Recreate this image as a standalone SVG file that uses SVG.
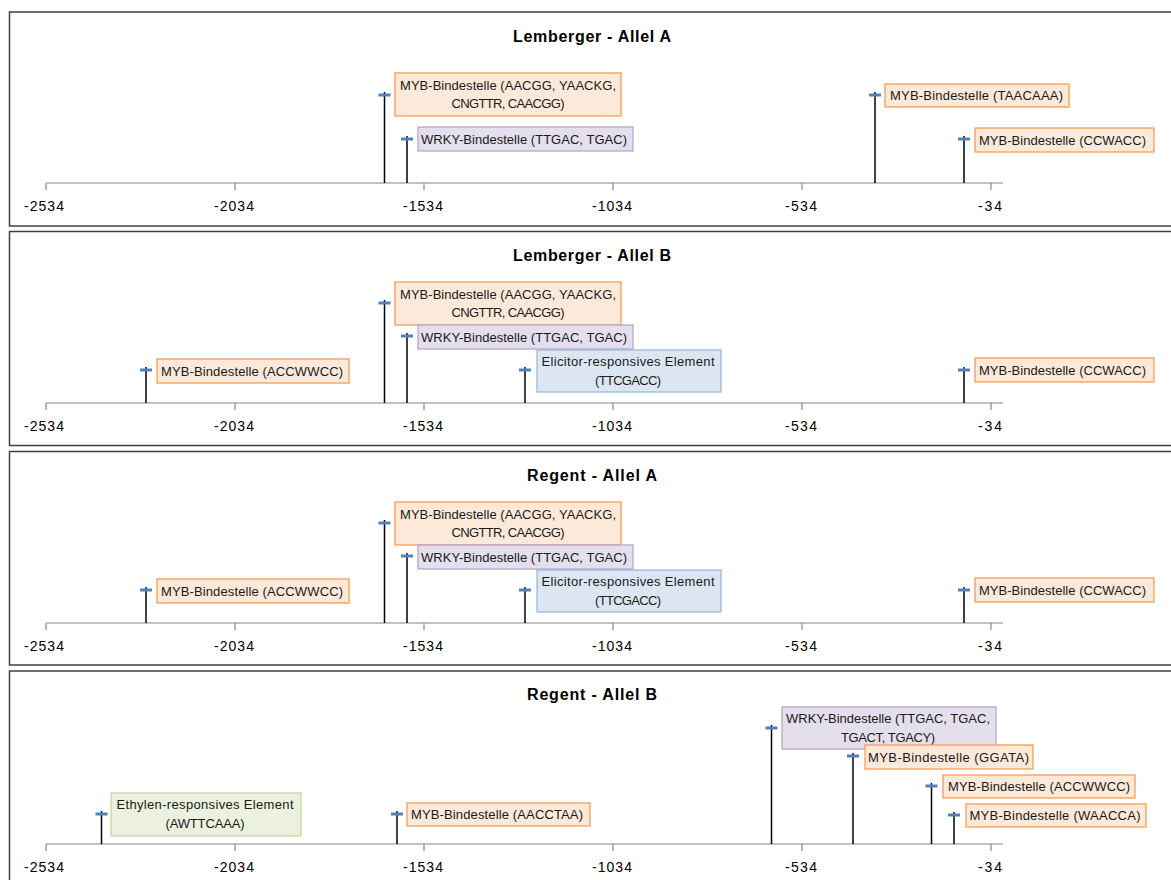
<svg xmlns="http://www.w3.org/2000/svg" width="1171" height="880" viewBox="0 0 1171 880">
<style>
.frame{fill:#fff;stroke:#404040;stroke-width:1.5}
.title{font-family:"Liberation Sans",Arial,sans-serif;font-weight:bold;font-size:16px;fill:#000;text-anchor:middle}
.axis{stroke:#868686;stroke-width:1.2;fill:none}
.tick{font-family:"Liberation Sans",Arial,sans-serif;font-size:14px;fill:#000;text-anchor:middle}
.stem{stroke:#000;stroke-width:1.5}
.mk{fill:#4f81bd}
.lbl{font-family:"Liberation Sans",Arial,sans-serif;font-size:13px;fill:#1a1a1a}
.mid{text-anchor:middle}
.or{fill:#fde9d9;stroke:#f79646;stroke-width:1.2}
.pu{fill:#e4dfec;stroke:#b3a2c7;stroke-width:1.2}
.bl{fill:#dce6f2;stroke:#95b3d7;stroke-width:1.2}
.gr{fill:#ebf1de;stroke:#c3d69b;stroke-width:1.2}
</style>
<defs>
<g id="axis">
<path class="axis" d="M46,0H1003M46,0v7M235,0v7M424,0v7M613,0v7M802,0v7M991,0v7"/>
<text class="tick" x="44" y="28" textLength="40">-2534</text>
<text class="tick" x="234" y="28" textLength="40">-2034</text>
<text class="tick" x="423" y="28" textLength="40">-1534</text>
<text class="tick" x="612" y="28" textLength="40">-1034</text>
<text class="tick" x="801" y="28" textLength="32">-534</text>
<text class="tick" x="990" y="28" textLength="24">-34</text>
</g>
</defs>

<!-- Panel 1 -->
<g id="panel1">
<rect class="frame" x="9.5" y="12" width="1170" height="214"/>
<text class="title" x="592" y="42" textLength="158">Lemberger - Allel A</text>
<use href="#axis" y="183"/>
</g>
<g id="p1-connectors">
<line class="stem" x1="384.5" y1="183" x2="384.5" y2="92"/><rect class="mk" x="378.5" y="93.5" width="12" height="3"/>
<line class="stem" x1="407" y1="183" x2="407" y2="136"/><rect class="mk" x="401" y="137.5" width="12" height="3"/>
<line class="stem" x1="875" y1="183" x2="875" y2="92"/><rect class="mk" x="869" y="93.5" width="12" height="3"/>
<line class="stem" x1="964" y1="183" x2="964" y2="136"/><rect class="mk" x="958" y="137.5" width="12" height="3"/>
</g>
<g id="p1-myb1"><rect class="or" x="395" y="73" width="226" height="43"/>
<text class="lbl mid" x="508" y="89.5" textLength="216">MYB-Bindestelle (AACGG, YAACKG,</text>
<text class="lbl mid" x="508" y="108" textLength="113">CNGTTR, CAACGG)</text></g>
<g id="p1-wrky"><rect class="pu" x="418" y="127" width="215" height="24"/>
<text class="lbl" x="421" y="143.5" textLength="206">WRKY-Bindestelle (TTGAC, TGAC)</text></g>
<g id="p1-myb2"><rect class="or" x="885" y="84" width="184" height="23"/>
<text class="lbl" x="890" y="100" textLength="173">MYB-Bindestelle (TAACAAA)</text></g>
<g id="p1-myb3"><rect class="or" x="975" y="128" width="179" height="24"/>
<text class="lbl" x="979" y="144.5" textLength="167">MYB-Bindestelle (CCWACC)</text></g>

<!-- Panel 2 -->
<g id="panel2">
<rect class="frame" x="9.5" y="231.5" width="1170" height="214"/>
<text class="title" x="592" y="261" textLength="158">Lemberger - Allel B</text>
<use href="#axis" y="403"/>
</g>
<g id="p2-connectors">
<line class="stem" x1="146" y1="403" x2="146" y2="367"/><rect class="mk" x="140" y="368.5" width="12" height="3"/>
<line class="stem" x1="384.5" y1="403" x2="384.5" y2="300"/><rect class="mk" x="378.5" y="301.5" width="12" height="3"/>
<line class="stem" x1="407" y1="403" x2="407" y2="333"/><rect class="mk" x="401" y="334.5" width="12" height="3"/>
<line class="stem" x1="525" y1="403" x2="525" y2="367"/><rect class="mk" x="519" y="368.5" width="12" height="3"/>
<line class="stem" x1="964" y1="403" x2="964" y2="367"/><rect class="mk" x="958" y="368.5" width="12" height="3"/>
</g>
<g id="p2-myb0"><rect class="or" x="157" y="359" width="192" height="24"/>
<text class="lbl" x="161" y="375.5" textLength="182">MYB-Bindestelle (ACCWWCC)</text></g>
<g id="p2-myb1"><rect class="or" x="395" y="282" width="226" height="43"/>
<text class="lbl mid" x="508" y="298.5" textLength="216">MYB-Bindestelle (AACGG, YAACKG,</text>
<text class="lbl mid" x="508" y="317" textLength="113">CNGTTR, CAACGG)</text></g>
<g id="p2-wrky"><rect class="pu" x="418" y="325" width="215" height="24"/>
<text class="lbl" x="421" y="341.5" textLength="206">WRKY-Bindestelle (TTGAC, TGAC)</text></g>
<g id="p2-elic"><rect class="bl" x="537" y="350" width="184" height="42"/>
<text class="lbl mid" x="628" y="366" textLength="173">Elicitor-responsives Element</text>
<text class="lbl mid" x="628" y="385" textLength="66">(TTCGACC)</text></g>
<g id="p2-myb3"><rect class="or" x="975" y="358" width="179" height="24"/>
<text class="lbl" x="979" y="374.5" textLength="167">MYB-Bindestelle (CCWACC)</text></g>

<!-- Panel 3 -->
<g id="panel3">
<rect class="frame" x="9.5" y="451.5" width="1170" height="213.5"/>
<text class="title" x="592" y="481" textLength="130">Regent - Allel A</text>
<use href="#axis" y="623"/>
</g>
<g id="p3-connectors">
<line class="stem" x1="146" y1="623" x2="146" y2="587"/><rect class="mk" x="140" y="588.5" width="12" height="3"/>
<line class="stem" x1="384.5" y1="623" x2="384.5" y2="520"/><rect class="mk" x="378.5" y="521.5" width="12" height="3"/>
<line class="stem" x1="407" y1="623" x2="407" y2="553"/><rect class="mk" x="401" y="554.5" width="12" height="3"/>
<line class="stem" x1="525" y1="623" x2="525" y2="587"/><rect class="mk" x="519" y="588.5" width="12" height="3"/>
<line class="stem" x1="964" y1="623" x2="964" y2="587"/><rect class="mk" x="958" y="588.5" width="12" height="3"/>
</g>
<g id="p3-myb0"><rect class="or" x="157" y="579" width="192" height="24"/>
<text class="lbl" x="161" y="595.5" textLength="182">MYB-Bindestelle (ACCWWCC)</text></g>
<g id="p3-myb1"><rect class="or" x="395" y="502" width="226" height="43"/>
<text class="lbl mid" x="508" y="518.5" textLength="216">MYB-Bindestelle (AACGG, YAACKG,</text>
<text class="lbl mid" x="508" y="537" textLength="113">CNGTTR, CAACGG)</text></g>
<g id="p3-wrky"><rect class="pu" x="418" y="545" width="215" height="24"/>
<text class="lbl" x="421" y="561.5" textLength="206">WRKY-Bindestelle (TTGAC, TGAC)</text></g>
<g id="p3-elic"><rect class="bl" x="537" y="570" width="184" height="42"/>
<text class="lbl mid" x="628" y="586" textLength="173">Elicitor-responsives Element</text>
<text class="lbl mid" x="628" y="605" textLength="66">(TTCGACC)</text></g>
<g id="p3-myb3"><rect class="or" x="975" y="578" width="179" height="24"/>
<text class="lbl" x="979" y="594.5" textLength="167">MYB-Bindestelle (CCWACC)</text></g>

<!-- Panel 4 -->
<g id="panel4">
<rect class="frame" x="9.5" y="671" width="1170" height="220"/>
<text class="title" x="592" y="700" textLength="130">Regent - Allel B</text>
<use href="#axis" y="844"/>
</g>
<g id="p4-connectors">
<line class="stem" x1="101.5" y1="844" x2="101.5" y2="811"/><rect class="mk" x="95.5" y="812.5" width="12" height="3"/>
<line class="stem" x1="397" y1="844" x2="397" y2="811"/><rect class="mk" x="391" y="812.5" width="12" height="3"/>
<line class="stem" x1="771.5" y1="844" x2="771.5" y2="725"/><rect class="mk" x="765.5" y="726.5" width="12" height="3"/>
<line class="stem" x1="853" y1="844" x2="853" y2="753"/><rect class="mk" x="847" y="754.5" width="12" height="3"/>
<line class="stem" x1="931.5" y1="844" x2="931.5" y2="783"/><rect class="mk" x="925.5" y="784.5" width="12" height="3"/>
<line class="stem" x1="954" y1="844" x2="954" y2="812"/><rect class="mk" x="948" y="813.5" width="12" height="3"/>
</g>
<g id="p4-eth"><rect class="gr" x="111" y="793" width="190" height="43"/>
<text class="lbl mid" x="205" y="809" textLength="177">Ethylen-responsives Element</text>
<text class="lbl mid" x="205" y="828" textLength="79">(AWTTCAAA)</text></g>
<g id="p4-myb0"><rect class="or" x="407" y="803" width="183" height="23"/>
<text class="lbl" x="411" y="819" textLength="172">MYB-Bindestelle (AACCTAA)</text></g>
<g id="p4-wrky"><rect class="pu" x="782" y="707" width="214" height="42"/>
<text class="lbl mid" x="888" y="723" textLength="204">WRKY-Bindestelle (TTGAC, TGAC,</text>
<text class="lbl mid" x="888" y="742" textLength="94">TGACT, TGACY)</text></g>
<g id="p4-myb1"><rect class="or" x="865" y="745" width="168" height="24"/>
<text class="lbl" x="868" y="761.5" textLength="161">MYB-Bindestelle (GGATA)</text></g>
<g id="p4-myb2"><rect class="or" x="943" y="775" width="192" height="23"/>
<text class="lbl" x="948" y="791" textLength="182">MYB-Bindestelle (ACCWWCC)</text></g>
<g id="p4-myb3"><rect class="or" x="966" y="804" width="180" height="23"/>
<text class="lbl" x="969.5" y="820" textLength="171">MYB-Bindestelle (WAACCA)</text></g>
</svg>
